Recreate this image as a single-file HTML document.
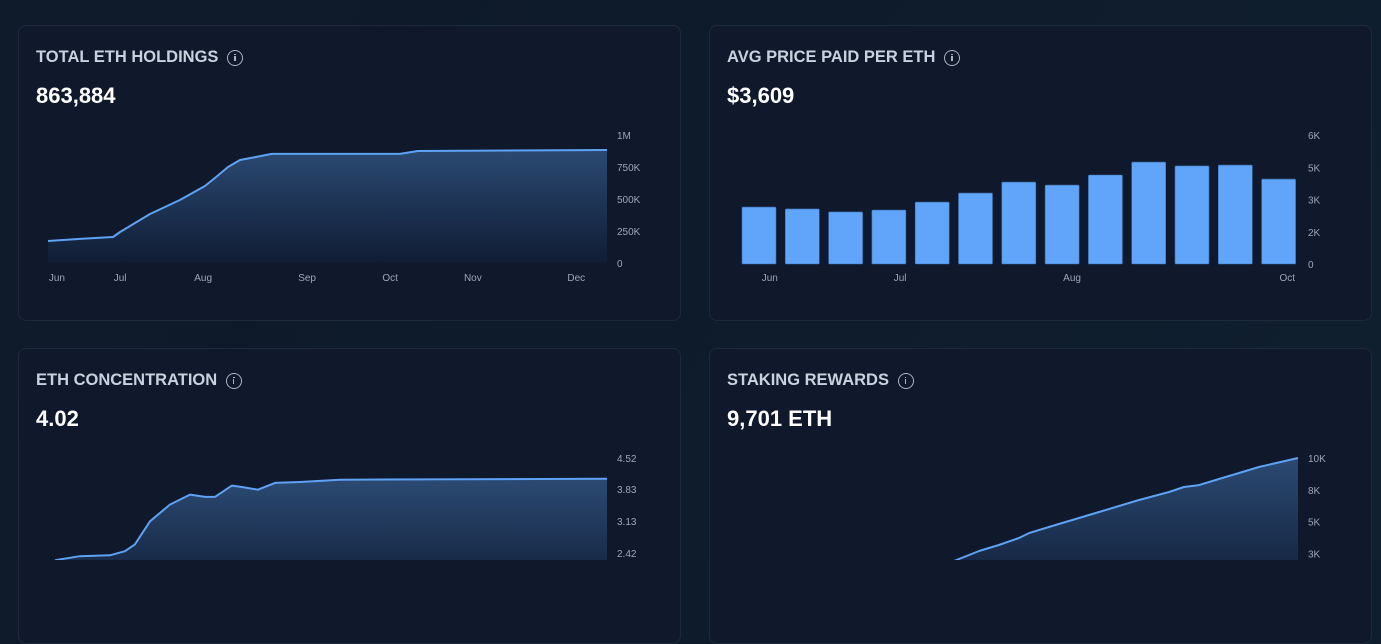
<!DOCTYPE html>
<html><head><meta charset="utf-8">
<style>
html,body{margin:0;padding:0;width:1381px;height:560px;overflow:hidden;background:linear-gradient(120deg,#0f1a2a 0%,#0e1b2b 50%,#10202f 100%);font-family:"Liberation Sans",sans-serif;}
.card{position:absolute;width:663px;height:296px;background:#0f192b;border:1px solid #1d2a3c;border-radius:8px;box-sizing:border-box;}
.title{position:absolute;left:17px;top:22px;font-size:16.5px;color:#c8d2df;font-weight:600;display:flex;align-items:center;}
.info{display:inline-block;width:16px;height:16px;border:1.4px solid #aab4c2;border-radius:50%;margin-left:9px;position:relative;box-sizing:border-box;}
.info:after{content:"";position:absolute;left:5.9px;top:5.8px;width:1.4px;height:5px;background:#aab4c2;}
.info:before{content:"";position:absolute;left:5.9px;top:3px;width:1.5px;height:1.5px;background:#aab4c2;}
.value{position:absolute;left:17px;top:57px;font-size:22px;color:#fff;font-weight:700;}
svg{position:absolute;left:0;top:0;}
svg text{font-family:"Liberation Sans",sans-serif;font-size:10px;fill:#9ba6b6;}
</style></head><body>
<div class="card" style="left:18px;top:25px">
 <div class="title">TOTAL ETH HOLDINGS<span class="info"></span></div>
 <div class="value">863,884</div>
</div>
<div class="card" style="left:709px;top:25px">
 <div class="title">AVG PRICE PAID PER ETH<span class="info"></span></div>
 <div class="value">$3,609</div>
</div>
<div class="card" style="left:18px;top:348px">
 <div class="title">ETH CONCENTRATION<span class="info"></span></div>
 <div class="value">4.02</div>
</div>
<div class="card" style="left:709px;top:348px">
 <div class="title">STAKING REWARDS<span class="info"></span></div>
 <div class="value">9,701 ETH</div>
</div>
<svg id="chart" width="1381" height="560">
<defs>
<linearGradient id="fillg" x1="0" y1="0" x2="0" y2="1">
<stop offset="0" stop-color="#2b4a73"/><stop offset="1" stop-color="#101c34"/></linearGradient>
</defs>
</svg>
<script>
// Chart 1: total holdings (thousands)
const holdT=[0,11.4,23.3,25.8,36.5,47.2,56.2,59.7,64.4,68.7,80.1,125.9,132.3,200];
const holdV=[172,188,203,242,383,492,602,664,750,805,852,852,875,883];
const holdTickV=[0,250,500,750,1000];
const holdTickL=["0","250K","500K","750K","1M"];
const holdXT=[3.2,25.8,55.5,92.7,122.4,152,189];
const holdXL=["Jun","Jul","Aug","Sep","Oct","Nov","Dec"];
// Chart 2: avg price (K)
const priceV=[2.65,2.56,2.42,2.51,2.88,3.30,3.81,3.67,4.14,4.74,4.56,4.60,3.95];
const priceTickV=[0,1.5,3,4.5,6];
const priceTickL=["0","2K","3K","5K","6K"];
const priceXI=[0.25,3.26,7.23,12.2];
const priceXL=["Jun","Jul","Aug","Oct"];
// Chart 3: concentration
const concT=[2.5,11.4,22.2,27.5,31.1,36.5,43.6,50.8,56.2,59.7,65.8,69.4,75.1,81.2,90.2,104.5,200];
const concV=[2.26,2.35,2.37,2.46,2.61,3.12,3.49,3.71,3.66,3.66,3.91,3.88,3.82,3.97,3.99,4.04,4.06];
const concTickV=[2.42,3.13,3.83,4.52];
// Chart 4: staking rewards (K)
const stakeT=[76.7,85.7,92.8,100,103.6,114.3,128.7,143,153.8,159.1,164.5,171.7,178.9,186,200];
const stakeV=[1.89,2.68,3.15,3.70,4.09,4.80,5.75,6.69,7.32,7.72,7.87,8.35,8.82,9.29,10.0];
const stakeTickV=[2.5,5,7.5,10];
const stakeTickL=["3K","5K","8K","10K"];

const svg=document.getElementById('chart');
const NS='http://www.w3.org/2000/svg';
function mk(tag,attrs){const e=document.createElementNS(NS,tag);for(const k in attrs)e.setAttribute(k,attrs[k]);svg.appendChild(e);return e;}
function lin(d0,d1,r0,r1){return v=>r0+(v-d0)/(d1-d0)*(r1-r0);}

function areaChart(name,T,V,sx,sy,baseY){
  let d='';T.forEach((t,i)=>{d+=(i?'L':'M')+sx(t).toFixed(1)+','+sy(V[i]).toFixed(1);});
  const a=mk('path',{d:d+'L'+sx(T[T.length-1])+','+baseY+'L'+sx(T[0])+','+baseY+'Z',fill:'url(#fillg)'});
  
  
  const l=mk('path',{d:d,fill:'none',stroke:'#5ea2f5','stroke-width':2,'stroke-linejoin':'round'});
  
  
}
function yTicks(name,vals,labels,sy,x){
  vals.forEach((v,i)=>{const t=mk('text',{x:x,y:sy(v)+4});t.textContent=labels[i];
  
  });
}
function xTicks(name,vals,labels,sx,y){
  vals.forEach((v,i)=>{const t=mk('text',{x:sx(v),y:y,'text-anchor':'middle'});t.textContent=labels[i];
  
  });
}
// chart 1
{const sx=lin(0,200,48,607),sy=lin(0,1000,263,135);
 areaChart('holdings',holdT,holdV,sx,sy,263);
 yTicks('holdings',holdTickV,holdTickL,sy,617);
 xTicks('holdings',holdXT,holdXL,sx,281);}
// chart 2
{const sy=lin(0,6,264,135);const bx=i=>742+i*43.3;
 priceV.forEach((v,i)=>{const r=mk('rect',{x:bx(i),y:sy(v),width:34,height:264-sy(v),fill:'#60a5fa',stroke:'#3b6fb0','stroke-width':0.6,rx:1});
  
  });
 yTicks('price',priceTickV,priceTickL,sy,1308);
 xTicks('price',priceXI,priceXL,i=>bx(i)+17,281);}
// chart 3
{const sx=lin(0,200,48,607),sy=lin(4.52,2.42,458,553);
 areaChart('concentration',concT,concV,sx,sy,600);
 yTicks('concentration',concTickV,concTickV.map(v=>v.toFixed(2)),sy,617);}
// chart 4
{const sx=lin(0,200,740,1298),sy=lin(0,10,585,458);
 areaChart('staking',stakeT,stakeV,sx,sy,600);
 yTicks('staking',stakeTickV,stakeTickL,sy,1308);}
</script>
</body></html>
